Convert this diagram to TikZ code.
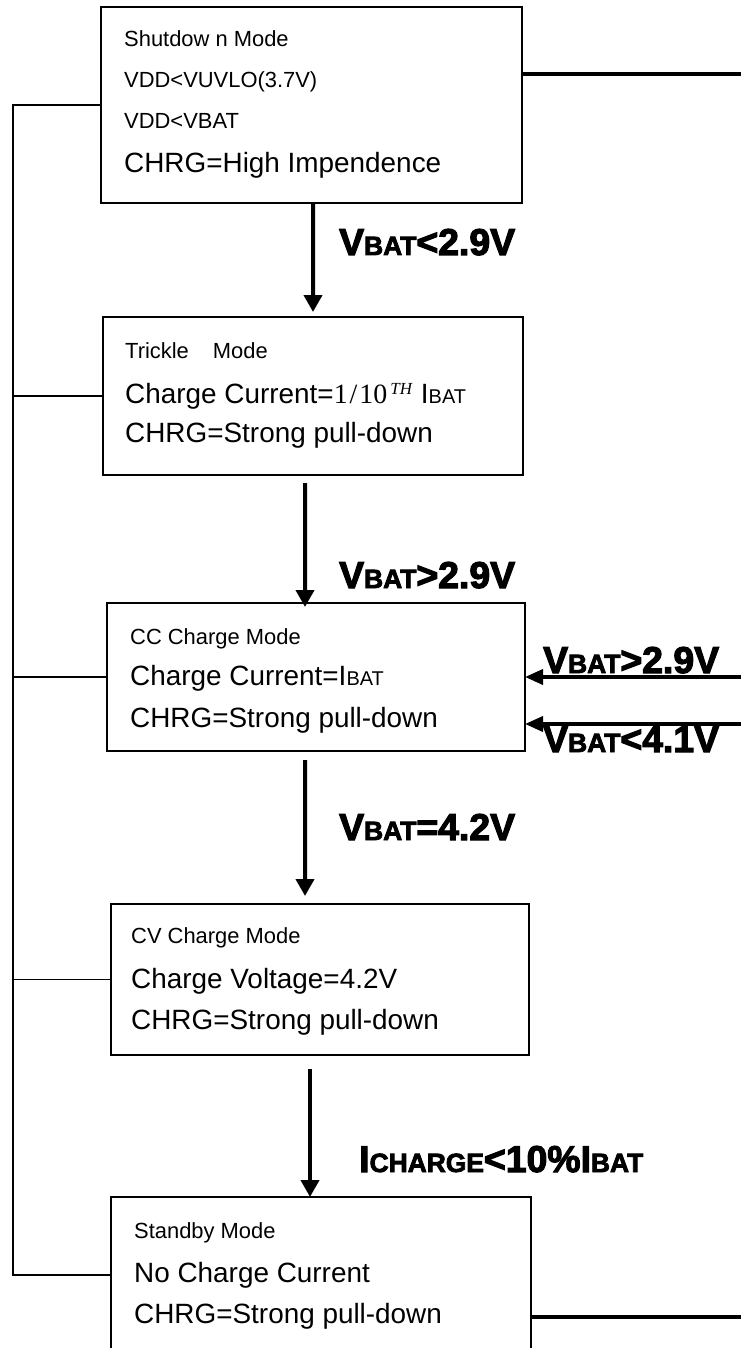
\documentclass[tikz,border=0pt]{standalone}
\usepackage{fontspec}
\setmainfont{Liberation Sans}
\newfontfamily\tnr{Liberation Serif}
\newfontfamily\heavy{Liberation Sans Bold}[FakeBold=3]
\usetikzlibrary{arrows.meta,calc}
\newcommand\szS{\fontsize{22}{24}\selectfont}
\newcommand\szB{\fontsize{28}{30}\selectfont}
\newcommand\szBAT{\fontsize{20}{22}\selectfont}
\newcommand\hvB{\fontsize{37.5}{37}\selectfont}
\newcommand\hvS{\fontsize{26.5}{26}\selectfont}
\begin{document}
\begin{tikzpicture}[x=1bp,y=-1bp,
 box/.style={draw, line width=1.5bp, inner sep=0pt, outer sep=0pt, anchor=north west},
 sm/.style={anchor=base west, inner sep=0pt, font=\szS},
 bg/.style={anchor=base west, inner sep=0pt, font=\szB},
 lab/.style={anchor=base west, inner sep=0pt, font=\heavy},
 arr/.style={line width=4bp, -{Triangle[length=17bp,width=18bp]}},
 rarr/.style={line width=3.7bp, -{Triangle[length=18bp,width=15bp]}},
 bus/.style={line width=1.5bp},
 thk/.style={line width=4bp}]
\useasboundingbox (0,0) rectangle (741,1348);
\clip (0,0) rectangle (741,1348);

% boxes
\node[box, minimum width=421bp, minimum height=196bp] (b1) at (101,7) {};
\node[box, minimum width=420bp, minimum height=158bp] (b2) at (103,317) {};
\node[box, minimum width=418bp, minimum height=148bp] (b3) at (107,603) {};
\node[box, minimum width=418bp, minimum height=151bp] (b4) at (111,904) {};
\node[box, minimum width=420bp, minimum height=156bp] (b5) at (111,1197) {};

% box texts
\node[sm] (t11) at (124,47) {Shutdow n Mode};
\node[sm] (t12) at (124,88) {VDD<VUVLO(3.7V)};
\node[sm] (t13) at (124,129) {VDD<VBAT};
\node[bg] (t14) at (124,173) {CHRG=High Impendence};

\node[sm] (t21) at (125,358) {Trickle\hspace{24bp}Mode};
\node[bg] (t22) at (125,403) {Charge Current={\tnr\fontsize{28}{30}\selectfont 1\kern2bp/\kern2bp10}\kern3bp\raisebox{9bp}{\tnr\itshape\fontsize{17}{17}\selectfont TH}\hspace{9bp}I{\szBAT BAT}};
\node[bg] (t23) at (125,442) {CHRG=Strong pull-down};

\node[sm] (t31) at (130,644) {CC Charge Mode};
\node[bg] (t32) at (130,685) {Charge Current=I{\szBAT BAT}};
\node[bg] (t33) at (130,727) {CHRG=Strong pull-down};

\node[sm] (t41) at (131,943) {CV Charge Mode};
\node[bg] (t42) at (131,988) {Charge Voltage=4.2V};
\node[bg] (t43) at (131,1029) {CHRG=Strong pull-down};

\node[sm] (t51) at (134,1238) {Standby Mode};
\node[bg] (t52) at (134,1282) {No Charge Current};
\node[bg] (t53) at (134,1323) {CHRG=Strong pull-down};

% transition labels
\node[lab] (l1) at (339,255) {\hvB V\hvS BAT\hvB <2.9V};
\node[lab] (l2) at (339,588) {\hvB V\hvS BAT\hvB >2.9V};
\node[lab] (l3) at (339,840) {\hvB V\hvS BAT\hvB =4.2V};
\node[lab] (l4) at (359,1172) {\hvB I\hvS CHARGE\hvB <10\%I\hvS BAT};
\node[lab] (l5) at (543,673) {\hvB V\hvS BAT\hvB >2.9V};
\node[lab] (l6) at (543,752) {\hvB V\hvS BAT\hvB <4.1V};

% left bus
\coordinate (bx) at (13,105);
\draw[bus] (b1.west) -- (b1.west -| bx) -- (b5.west -| bx) -- (b5.west);
\foreach \b in {b2,b3,b4} \draw[bus] (\b.west) -- (\b.west -| bx);

% right thick lines
\coordinate (e1) at (741,74);
\draw[thk] (b1.east |- e1) -- (e1);
\coordinate (e5) at (741,1317);
\draw[thk] (b5.east |- e5) -- (e5);

% right incoming arrows
\coordinate (e3a) at (741,677);
\coordinate (e3b) at (741,724);
\draw[rarr] (e3a) -- (e3a -| b3.east);
\draw[rarr] (e3b) -- (e3b -| b3.east);

% vertical arrows
\draw[arr] ([xshift=1.5bp]b1.south) -- ([yshift=5bp]b2.north);
\draw[arr] ([xshift=-8bp,yshift=-8bp]b2.south) -- ([xshift=-11bp,yshift=-4bp]b3.north);
\draw[arr] ([xshift=-11bp,yshift=-9bp]b3.south) -- ([xshift=-15bp,yshift=8bp]b4.north);
\draw[arr] ([xshift=-10bp,yshift=-14bp]b4.south) -- ([xshift=-11bp]b5.north);
\end{tikzpicture}
\end{document}
